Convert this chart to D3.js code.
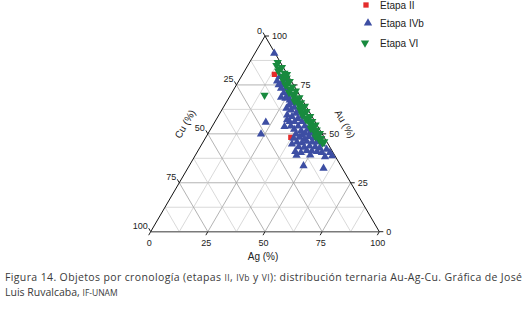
<!DOCTYPE html>
<html>
<head>
<meta charset="utf-8">
<script src="https://cdn.jsdelivr.net/npm/d3@7"></script>
<style>
body { margin: 0; background: #fff; }
text { font-family: "Liberation Sans", Arial, sans-serif; fill: #222; }
.caption { font-family: "Open Sans", sans-serif; fill: #3a3a3a; }
</style>
</head>
<body>
<svg id="chart" width="528" height="321"></svg>
<script>
// tick labels and grid steps (percent)
const tickValues = [0, 25, 50, 75, 100];
const gridValues = [12.5, 25, 37.5, 50, 62.5, 75, 87.5];

// points as [Au, Cu] in percent; Ag is the rest
const etapaII = [[80.4, 5.7], [48.2, 14.6]];

const etapaIVb = [
    [91.1, 0.4], [77.0, 6.2], [79.2, 4.0], [76.5, 4.2], [73.3, 6.3], [73.3, 4.3],
    [70.9, 6.3], [69.3, 5.4], [67.3, 5.5], [63.0, 9.1], [62.2, 7.5], [63.5, 5.4],
    [60.5, 6.2], [58.8, 8.8], [57.8, 6.7], [59.1, 4.2], [56.2, 11.1], [53.7, 14.6],
    [55.9, 21.7], [49.9, 26.8], [52.3, 11.1], [54.0, 8.5], [51.6, 8.4], [54.0, 5.6],
    [52.3, 5.2], [49.9, 11.5], [49.4, 9.1], [50.6, 4.9], [48.2, 10.9], [47.5, 9.0],
    [48.6, 6.5], [47.9, 4.8], [48.6, 2.7], [45.8, 13.1], [45.4, 11.1], [46.2, 8.6],
    [45.8, 6.4], [45.8, 4.4], [44.8, 2.6], [43.4, 13.6], [43.1, 11.3], [43.8, 8.6],
    [43.4, 6.3], [42.7, 4.7], [40.9, 16.3], [40.4, 14.1], [41.4, 11.0], [41.2, 8.9],
    [42.1, 2.0], [40.4, 1.4], [38.7, 1.3], [38.3, 4.6], [33.7, 16.3], [32.4, 8.2],
    [75.0, 6.5], [75.0, 4.6], [77.9, 2.5], [71.6, 3.8], [68.1, 7.0], [65.9, 5.1],
    [64.7, 7.1], [61.8, 4.2], [59.6, 10.5], [56.2, 9.0], [56.2, 5.7], [54.0, 11.7],
    [50.3, 7.2], [50.3, 3.3], [47.7, 13.6], [44.8, 15.8], [39.0, 16.7], [40.9, 6.8],
    [40.4, 4.9], [39.2, 10.6], [52.8, 3.0], [57.1, 11.8], [68.7, 8.6]
];

const etapaVI = [
    [86.5, 1.2], [85.0, 2.5], [84.0, 0.6], [83.2, 2.0], [82.0, 3.2], [81.0, 1.0],
    [80.4, 0.2], [79.5, 2.6], [78.6, 1.2], [77.5, 3.4], [76.8, 0.8], [75.7, 2.2],
    [74.8, 3.6], [74.0, 1.0], [72.9, 2.7], [72.0, 0.5], [71.2, 3.9], [70.3, 1.8],
    [69.4, 3.0], [68.5, 0.7], [67.6, 2.3], [66.7, 3.8], [65.9, 1.3], [65.0, 2.9],
    [64.1, 0.5], [63.2, 2.0], [62.4, 3.5], [61.5, 1.1], [60.6, 2.6], [59.8, 3.9],
    [58.9, 0.8], [58.0, 2.3], [57.2, 3.4], [56.3, 1.2], [55.4, 2.8], [54.6, 0.6],
    [53.7, 2.0], [52.8, 3.6], [52.0, 1.4], [51.1, 2.9], [50.2, 0.9], [49.4, 2.4],
    [48.5, 3.7], [47.7, 1.6], [46.8, 2.8], [46.0, 1.1], [45.3, 2.2], [69.8, 15.3]
];

const series = [
    { name: "Etapa II", data: etapaII, color: "#e42b2b", shape: d3.symbolSquare, size: 28, rot: 0 },
    { name: "Etapa IVb", data: etapaIVb, color: "#3d4ea3", shape: d3.symbolTriangle, size: 30, rot: 0 },
    { name: "Etapa VI", data: etapaVI, color: "#188a3e", shape: d3.symbolTriangle, size: 30, rot: 180 }
];

const svg = d3.select("#chart");
const x = d3.scaleLinear().domain([0, 100]).range([150.7, 379.3]);
const y = d3.scaleLinear().domain([0, 100]).range([231.7, 36]);

// ternary -> screen
const pos = (au, ag) => [x(ag + au / 2), y(au)];

const grid = svg.append("g").attr("class", "grid");
const gridLine = (a, b, v) => grid.append("line")
    .attr("x1", a[0]).attr("y1", a[1]).attr("x2", b[0]).attr("y2", b[1])
    .attr("stroke", v % 25 == 0 ? "#a0a0a0" : "#cfcfcf")
    .attr("stroke-width", 0.8);

gridValues.forEach(v => {
    gridLine(pos(v, 0), pos(v, 100 - v), v);          // Au const
    gridLine(pos(0, v), pos(100 - v, v), v);          // Ag const
    gridLine(pos(0, 100 - v), pos(100 - v, 0), v);    // Cu const
});

// edges
const apex = pos(100, 0), bl = pos(0, 0), br = pos(0, 100);
svg.append("line").attr("x1", bl[0]).attr("y1", bl[1]).attr("x2", br[0]).attr("y2", br[1])
    .attr("stroke", "#7a7a7a").attr("stroke-width", 1.6);
svg.append("path").attr("d", `M${bl[0]},${bl[1]}L${apex[0]},${apex[1]}L${br[0]},${br[1]}`)
    .attr("fill", "none").attr("stroke", "#111").attr("stroke-width", 1);

// ticks + labels
const axes = svg.append("g").attr("class", "axes").style("font-size", "9px");
tickValues.forEach(t => {
    // Ag bottom
    let p = pos(0, t);
    axes.append("line").attr("x1", p[0]).attr("y1", p[1]).attr("x2", p[0] - 2).attr("y2", p[1] + 3.5)
        .attr("stroke", "#222");
    axes.append("text").attr("x", p[0] - 1.5).attr("y", p[1] + 14.5).attr("text-anchor", "middle").text(t);
    // Cu left
    p = pos(100 - t, 0);
    axes.append("line").attr("x1", p[0]).attr("y1", p[1]).attr("x2", p[0] - 2).attr("y2", p[1] - 3.5)
        .attr("stroke", "#222");
    axes.append("text").attr("x", p[0] - 3).attr("y", p[1] - 2.5).attr("text-anchor", "end").text(t);
    // Au right
    p = pos(t, 100 - t);
    axes.append("line").attr("x1", p[0]).attr("y1", p[1]).attr("x2", p[0] + 4).attr("y2", p[1])
        .attr("stroke", "#222");
    axes.append("text").attr("x", p[0] + 7).attr("y", p[1] + 3.2).text(t);
});

// axis titles
svg.append("text").attr("x", 263).attr("y", 259.5).attr("text-anchor", "middle")
    .style("font-size", "10px").text("Ag (%)");
svg.append("text").attr("transform", "translate(185,124) rotate(-60)").attr("text-anchor", "middle")
    .attr("dy", "0.35em").style("font-size", "10px").text("Cu (%)");
svg.append("text").attr("transform", "translate(345,124) rotate(60)").attr("text-anchor", "middle")
    .attr("dy", "0.35em").style("font-size", "10px").text("Au (%)");

// points
series.forEach(s => {
    svg.append("g").selectAll("path")
        .data(s.data)
        .enter()
        .append("path")
        .attr("d", d3.symbol().type(s.shape).size(s.size))
        .attr("transform", d => {
            const p = pos(d[0], 100 - d[0] - d[1]);
            return `translate(${p[0]},${p[1]}) rotate(${s.rot})`;
        })
        .attr("fill", s.color);
});

// legend
const legendY = [5, 23, 43];
const legendX = [366, 368, 365];
const legend = svg.append("g").attr("class", "legend");
series.forEach((s, i) => {
    legend.append("path")
        .attr("d", d3.symbol().type(s.shape).size(s.size))
        .attr("transform", `translate(${legendX[i]},${legendY[i]}) rotate(${s.rot})`)
        .attr("fill", s.color);
    legend.append("text").attr("x", 380).attr("y", legendY[i]).attr("dy", "0.35em")
        .style("font-size", "10px").text(s.name);
});

// caption
const cap1 = svg.append("text").attr("class", "caption").attr("x", 5).attr("y", 281)
    .style("font-size", "10.5px").attr("textLength", 517).attr("lengthAdjust", "spacing");
cap1.append("tspan").text("Figura 14. Objetos por cronología (etapas ");
cap1.append("tspan").style("font-size", "8.5px").text("II");
cap1.append("tspan").text(", ");
cap1.append("tspan").style("font-size", "8.5px").text("IVb");
cap1.append("tspan").text(" y ");
cap1.append("tspan").style("font-size", "8.5px").text("VI");
cap1.append("tspan").text("): distribución ternaria Au-Ag-Cu. Gráfica de José");
const cap2 = svg.append("text").attr("class", "caption").attr("x", 5).attr("y", 296)
    .style("font-size", "10.5px");
cap2.append("tspan").text("Luis Ruvalcaba, ");
cap2.append("tspan").style("font-size", "8.5px").text("IF-UNAM");
</script>
</body>
</html>
